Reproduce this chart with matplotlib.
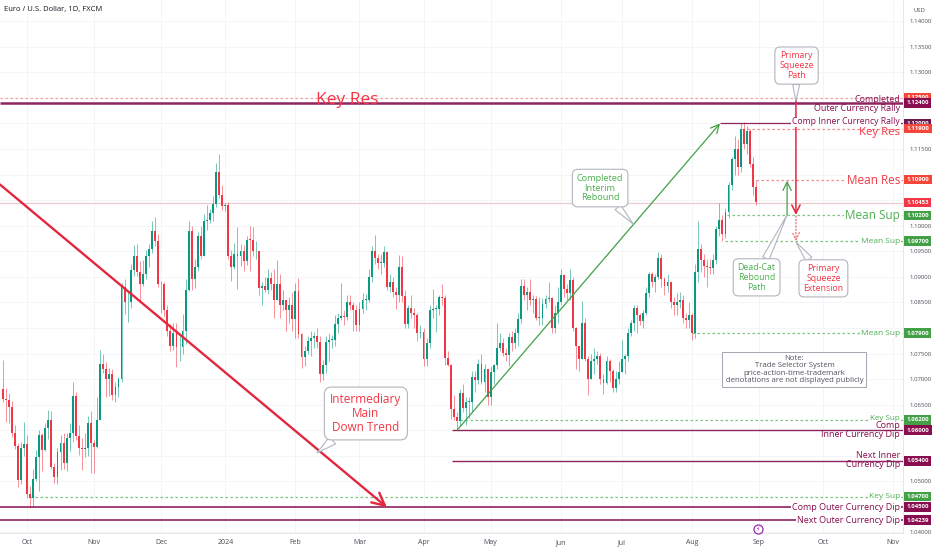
import numpy as np
import pandas as pd
import matplotlib
matplotlib.use("Agg")
import matplotlib.pyplot as plt
import matplotlib.transforms as mtransforms

plt.rcParams['font.family'] = ['Open Sans', 'DejaVu Sans']

# EUR/USD daily candles (FXCM), 2023-09-20 .. 2024-08-30
start_date = "2023-09-20"
end_date = "2024-08-30"
first_open = 1.0680

closes = [
    # Sep 2023
    1.0661, 1.0660, 1.0645, 1.0595, 1.0570, 1.0503, 1.0565, 1.0573,
    # Oct
    1.0476, 1.0468, 1.0505, 1.0547, 1.0590, 1.0562, 1.0605, 1.0620, 1.0528, 1.0508,
    1.0557, 1.0575, 1.0535, 1.0584, 1.0595, 1.0667, 1.0588, 1.0565, 1.0563, 1.0565,
    1.0615, 1.0575,
    # Nov
    1.0567, 1.0620, 1.0730, 1.0720, 1.0700, 1.0710, 1.0668, 1.0685, 1.0700, 1.0880,
    1.0850, 1.0850, 1.0914, 1.0940, 1.0910, 1.0886, 1.0905, 1.0940, 1.0954, 1.0990,
    1.0970, 1.0885,
    # Dec
    1.0885, 1.0835, 1.0795, 1.0765, 1.0790, 1.0762, 1.0763, 1.0795, 1.0875, 1.0990,
    1.0895, 1.0920, 1.0980, 1.0940, 1.1010, 1.1012, 1.1025, 1.1043, 1.1105, 1.1060,
    1.1038,
    # Jan 2024
    1.1040, 1.0940, 1.0920, 1.0945, 1.0940, 1.0950, 1.0930, 1.0973, 1.0972, 1.0950,
    1.0950, 1.0878, 1.0883, 1.0875, 1.0897, 1.0885, 1.0855, 1.0885, 1.0845, 1.0855,
    1.0835, 1.0845, 1.0818,
    # Feb
    1.0873, 1.0788, 1.0743, 1.0755, 1.0775, 1.0780, 1.0785, 1.0772, 1.0710, 1.0727,
    1.0772, 1.0777, 1.0777, 1.0808, 1.0820, 1.0823, 1.0822, 1.0850, 1.0845, 1.0835,
    1.0805,
    # Mar
    1.0838, 1.0855, 1.0855, 1.0900, 1.0950, 1.0937, 1.0927, 1.0927, 1.0948, 1.0880,
    1.0890, 1.0870, 1.0865, 1.0920, 1.0862, 1.0808, 1.0840, 1.0830, 1.0825, 1.0790,
    1.0792,
    # Apr
    1.0740, 1.0770, 1.0835, 1.0838, 1.0838, 1.0860, 1.0858, 1.0742, 1.0727, 1.0642,
    1.0625, 1.0618, 1.0672, 1.0643, 1.0655, 1.0655, 1.0705, 1.0698, 1.0730, 1.0694,
    1.0720, 1.0665,
    # May
    1.0713, 1.0727, 1.0760, 1.0770, 1.0752, 1.0748, 1.0783, 1.0770, 1.0790, 1.0818,
    1.0882, 1.0865, 1.0870, 1.0855, 1.0857, 1.0820, 1.0820, 1.0847, 1.0857, 1.0858,
    1.0800, 1.0830, 1.0850,
    # Jun
    1.0903, 1.0877, 1.0868, 1.0893, 1.0800, 1.0765, 1.0740, 1.0810, 1.0740, 1.0700,
    1.0735, 1.0740, 1.0745, 1.0700, 1.0692, 1.0735, 1.0715, 1.0683, 1.0700, 1.0713,
    # Jul
    1.0740, 1.0745, 1.0790, 1.0810, 1.0840, 1.0825, 1.0813, 1.0830, 1.0868, 1.0905,
    1.0890, 1.0900, 1.0937, 1.0895, 1.0883, 1.0890, 1.0850, 1.0845, 1.0850, 1.0855,
    1.0820, 1.0815, 1.0825,
    # Aug
    1.0790, 1.0910, 1.0955, 1.0933, 1.0922, 1.0920, 1.0917, 1.0932, 1.0993, 1.1012,
    1.0983, 1.1027, 1.1080, 1.1130, 1.1150, 1.1115, 1.1190, 1.1160, 1.1185, 1.1120,
    1.1075, 1.1047,
]

highs = [
    1.0737, 1.0683, 1.0672, 1.0657, 1.0610, 1.0575, 1.0577, 1.0617,
    1.0590, 1.0490, 1.0525, 1.0561, 1.0600, 1.0595, 1.0615, 1.0640, 1.0638, 1.0535,
    1.0565, 1.0590, 1.0595, 1.0595, 1.0615, 1.0695, 1.0675, 1.0610, 1.0585, 1.0595,
    1.0627, 1.0637,
    1.0580, 1.0665, 1.0756, 1.0750, 1.0733, 1.0722, 1.0720, 1.0695, 1.0705, 1.0887,
    1.0895, 1.0870, 1.0925, 1.0962, 1.0965, 1.0930, 1.0932, 1.0952, 1.0965, 1.1009,
    1.1017, 1.0984,
    1.0892, 1.0890, 1.0845, 1.0808, 1.0810, 1.0810, 1.0787, 1.0827, 1.0895, 1.1009,
    1.1000, 1.0935, 1.0988, 1.1000, 1.1022, 1.1040, 1.1032, 1.1059, 1.1122, 1.1140,
    1.1080,
    1.1045, 1.1046, 1.0952, 1.0967, 1.0998, 1.0965, 1.0963, 1.0980, 1.0999, 1.0998,
    1.0970, 1.0950, 1.0890, 1.0900, 1.0915, 1.0910, 1.0915, 1.0933, 1.0905, 1.0874,
    1.0855, 1.0860, 1.0870,
    1.0888, 1.0897, 1.0790, 1.0765, 1.0785, 1.0795, 1.0793, 1.0800, 1.0785, 1.0737,
    1.0785, 1.0790, 1.0787, 1.0825, 1.0830, 1.0888, 1.0835, 1.0865, 1.0865, 1.0850,
    1.0845,
    1.0850, 1.0868, 1.0866, 1.0915, 1.0960, 1.0981, 1.0945, 1.0945, 1.0960, 1.0950,
    1.0905, 1.0900, 1.0880, 1.0942, 1.0940, 1.0875, 1.0845, 1.0865, 1.0840, 1.0830,
    1.0805,
    1.0800, 1.0780, 1.0845, 1.0876, 1.0845, 1.0865, 1.0885, 1.0865, 1.0755, 1.0730,
    1.0668, 1.0635, 1.0680, 1.0690, 1.0665, 1.0665, 1.0715, 1.0715, 1.0740, 1.0750,
    1.0730, 1.0720,
    1.0725, 1.0730, 1.0810, 1.0790, 1.0780, 1.0760, 1.0790, 1.0795, 1.0800, 1.0830,
    1.0895, 1.0895, 1.0880, 1.0895, 1.0865, 1.0862, 1.0860, 1.0858, 1.0865, 1.0890,
    1.0860, 1.0845, 1.0880,
    1.0915, 1.0905, 1.0885, 1.0916, 1.0900, 1.0802, 1.0765, 1.0852, 1.0820, 1.0745,
    1.0750, 1.0760, 1.0755, 1.0752, 1.0710, 1.0745, 1.0740, 1.0720, 1.0715, 1.0735,
    1.0776, 1.0750, 1.0800, 1.0815, 1.0845, 1.0845, 1.0830, 1.0835, 1.0880, 1.0910,
    1.0910, 1.0905, 1.0948, 1.0945, 1.0900, 1.0905, 1.0890, 1.0860, 1.0868, 1.0870,
    1.0865, 1.0830, 1.0850,
    1.0830, 1.0925, 1.1009, 1.0965, 1.0945, 1.0935, 1.0935, 1.0945, 1.1000, 1.1045,
    1.1020, 1.1035, 1.1085, 1.1135, 1.1175, 1.1170, 1.1200, 1.1202, 1.1195, 1.1190,
    1.1135, 1.1090,
]

lows = [
    1.0655, 1.0616, 1.0615, 1.0587, 1.0563, 1.0488, 1.0495, 1.0550,
    1.0467, 1.0448, 1.0449, 1.0500, 1.0482, 1.0520, 1.0560, 1.0582, 1.0525, 1.0496,
    1.0495, 1.0522, 1.0525, 1.0520, 1.0560, 1.0577, 1.0580, 1.0552, 1.0522, 1.0548,
    1.0550, 1.0516,
    1.0517, 1.0565, 1.0620, 1.0712, 1.0665, 1.0667, 1.0660, 1.0656, 1.0665, 1.0695,
    1.0828, 1.0812, 1.0840, 1.0902, 1.0902, 1.0852, 1.0882, 1.0896, 1.0920, 1.0946,
    1.0960, 1.0880,
    1.0830, 1.0824, 1.0785, 1.0755, 1.0756, 1.0723, 1.0735, 1.0750, 1.0768, 1.0873,
    1.0875, 1.0878, 1.0912, 1.0935, 1.0950, 1.0992, 1.1005, 1.1010, 1.1037, 1.1055,
    1.1030,
    1.1028, 1.0935, 1.0892, 1.0915, 1.0877, 1.0922, 1.0912, 1.0924, 1.0912, 1.0940,
    1.0935, 1.0865, 1.0845, 1.0870, 1.0867, 1.0875, 1.0820, 1.0855, 1.0820, 1.0835,
    1.0795, 1.0810, 1.0795,
    1.0780, 1.0780, 1.0722, 1.0725, 1.0750, 1.0745, 1.0760, 1.0760, 1.0695, 1.0698,
    1.0712, 1.0735, 1.0760, 1.0765, 1.0790, 1.0815, 1.0805, 1.0815, 1.0835, 1.0795,
    1.0795,
    1.0795, 1.0830, 1.0835, 1.0850, 1.0890, 1.0925, 1.0915, 1.0905, 1.0920, 1.0875,
    1.0870, 1.0860, 1.0838, 1.0850, 1.0850, 1.0800, 1.0800, 1.0820, 1.0800, 1.0775,
    1.0780,
    1.0725, 1.0725, 1.0760, 1.0820, 1.0792, 1.0825, 1.0845, 1.0728, 1.0725, 1.0622,
    1.0620, 1.0601, 1.0610, 1.0635, 1.0610, 1.0624, 1.0635, 1.0675, 1.0690, 1.0690,
    1.0675, 1.0650,
    1.0650, 1.0690, 1.0720, 1.0755, 1.0745, 1.0735, 1.0725, 1.0755, 1.0760, 1.0765,
    1.0810, 1.0855, 1.0835, 1.0845, 1.0830, 1.0815, 1.0805, 1.0805, 1.0840, 1.0850,
    1.0790, 1.0790, 1.0810,
    1.0845, 1.0860, 1.0855, 1.0855, 1.0795, 1.0720, 1.0715, 1.0740, 1.0735, 1.0668,
    1.0700, 1.0710, 1.0730, 1.0690, 1.0670, 1.0690, 1.0695, 1.0675, 1.0675, 1.0690,
    1.0715, 1.0710, 1.0735, 1.0785, 1.0795, 1.0790, 1.0805, 1.0800, 1.0825, 1.0860,
    1.0880, 1.0870, 1.0895, 1.0880, 1.0865, 1.0870, 1.0840, 1.0825, 1.0825, 1.0840,
    1.0810, 1.0800, 1.0800,
    1.0777, 1.0780, 1.0890, 1.0910, 1.0900, 1.0880, 1.0905, 1.0905, 1.0925, 1.0980,
    1.0970, 1.0975, 1.1015, 1.1070, 1.1100, 1.1100, 1.1105, 1.1150, 1.1140, 1.1115,
    1.1060, 1.1040,
]

last_price = 1.10453
month_names = ['Oct', 'Nov', 'Dec', '2024', 'Feb', 'Mar', 'Apr', 'May', 'Jun',
               'Jul', 'Aug', 'Sep', 'Oct', 'Nov']
# price ticks that the scale shows (the rest sit under the level boxes)
price_ticks = [1.140, 1.135, 1.130, 1.115, 1.100, 1.095, 1.090, 1.085,
               1.075, 1.070, 1.065, 1.050, 1.040]

RED = '#F23645'
GREEN = '#4CAF50'
MAROON = '#880E4F'
UP = '#089981'

# ---- data prep
dates = pd.bdate_range(start_date, end_date)
assert len(dates) == len(closes) == len(highs) == len(lows)
closes = np.array(closes)
opens = np.concatenate([[first_open], closes[:-1]])
highs = np.maximum(np.array(highs), np.maximum(opens, closes))
lows = np.minimum(np.array(lows), np.minimum(opens, closes))
idx = np.arange(len(closes))

future = pd.bdate_range(start_date, "2024-11-29")
month_pos = []
for k in range(1, len(future)):
    if future[k].month != future[k - 1].month:
        month_pos.append(k)
month_pos = month_pos[:len(month_names)]

def dpos(d):
    return int(np.searchsorted(future, pd.Timestamp(d)))

# ---- figure
fig = plt.figure(figsize=(9.32, 5.5), dpi=100)
ax = fig.add_axes([0, 17 / 550, 903 / 932, 533 / 550])
ax.set_xlim(-0.85, 295.2)
ax.set_ylim(1.03990, 1.14414)

# grid
for p in month_pos:
    ax.axvline(p, color='#F3F4F6', lw=0.6, zorder=0)
for y in np.round(np.arange(1.04, 1.14001, 0.005), 3):
    ax.axhline(y, color='#F3F4F6', lw=0.6, zorder=0)

# candles
up = closes >= opens
col = np.where(up, UP, RED)
ax.vlines(idx, lows, highs, colors=col, lw=0.7, alpha=0.55, zorder=2)
body_h = np.maximum(np.abs(closes - opens), 0.00012)
ax.bar(idx, body_h, bottom=np.minimum(opens, closes), width=0.62, color=col,
       lw=0, zorder=3)

# current price line
ax.axhline(last_price, color='#EBC9CE', lw=0.9, zorder=1)

# level lines
d_apr16 = dpos("2024-04-16")
levels = [
    # price, x start, colour, linestyle, lw
    (1.1250, -1, '#F5A3A8', (0, (2, 2)), 0.9),
    (1.1240, -1, '#8E2460', '-', 1.8),
    (1.1200, 235.2, '#8E2460', '-', 0.9),
    (1.1190, 242.5, '#F58A90', (0, (2, 2)), 0.9),
    (1.1090, 247.0, '#F58A90', (0, (2, 2)), 0.9),
    (1.1020, 237.5, '#7CC47F', (0, (2, 2)), 0.9),
    (1.0970, 237.0, '#7CC47F', (0, (2, 2)), 0.9),
    (1.0790, dpos("2024-08-01"), '#7CC47F', (0, (2, 2)), 0.9),
    (1.0620, d_apr16 + 1, '#7CC47F', (0, (2, 2)), 0.9),
    (1.0600, d_apr16 - 1.5, '#8E2460', '-', 1.0),
    (1.0540, d_apr16 - 1.5, '#8E2460', '-', 1.0),
    (1.0470, dpos("2023-10-03"), '#7CC47F', (0, (2, 2)), 0.9),
    (1.0450, -1, '#8E2460', '-', 1.2),
    (1.04239, -1, '#8E2460', '-', 1.2),
]
for price, x0, c, ls, lw in levels:
    ax.plot([x0, 296], [price, price], color=c, ls=ls, lw=lw, zorder=2,
            solid_capstyle='butt')

# right-side level texts
tr = mtransforms.blended_transform_factory(ax.transAxes, ax.transData)
lbl_bg = dict(boxstyle='square,pad=0.1', fc='white', ec='none')
level_texts = [
    (1.12462, 'Completed', MAROON, 6.5, None),
    (1.12284, 'Outer Currency Rally', MAROON, 6.5, None),
    (1.12030, 'Comp Inner Currency Rally', MAROON, 6.2, lbl_bg),
    (1.11818, 'Key Res', RED, 8.2, None),
    (1.10885, 'Mean Res', RED, 8.5, lbl_bg),
    (1.10190, 'Mean Sup', GREEN, 8.5, lbl_bg),
    (1.09685, 'Mean Sup', GREEN, 6.0, lbl_bg),
    (1.07890, 'Mean Sup', GREEN, 6.0, lbl_bg),
    (1.06225, 'Key Sup', GREEN, 5.8, lbl_bg),
    (1.06090, 'Comp', MAROON, 6.5, None),
    (1.05920, 'Inner Currency Dip', MAROON, 6.5, None),
    (1.05500, 'Next Inner', MAROON, 6.5, None),
    (1.05320, 'Currency Dip', MAROON, 6.5, None),
    (1.04700, 'Key Sup', GREEN, 6.0, lbl_bg),
    (1.04490, 'Comp Outer Currency Dip', MAROON, 6.5, lbl_bg),
    (1.04230, 'Next Outer Currency Dip', MAROON, 6.5, lbl_bg),
]
for price, txt, c, fs, bg in level_texts:
    ax.text(900 / 903, price, txt, transform=tr, ha='right', va='center',
            color=c, fontsize=fs, bbox=bg, zorder=5)

ax.text(112.9, 1.12462, 'Key Res', color=RED, fontsize=12.5, ha='center',
        va='center', zorder=5)

# price scale boxes
price_boxes = [
    (1.1250, '1.12500', '#F4473A'),
    (1.1240, '1.12400', '#880E4F'),
    (1.1200, '1.12000', '#6A1B4D'),
    (1.1190, '1.11900', '#F4473A'),
    (1.1090, '1.10900', '#F4473A'),
    (last_price, '1.10453', '#F23645'),
    (1.1020, '1.10200', '#43A047'),
    (1.0970, '1.09700', '#43A047'),
    (1.0790, '1.07900', '#43A047'),
    (1.0620, '1.06200', '#43A047'),
    (1.0600, '1.06000', '#880E4F'),
    (1.0540, '1.05400', '#880E4F'),
    (1.0470, '1.04700', '#43A047'),
    (1.0450, '1.04500', '#880E4F'),
    (1.04239, '1.04239', '#880E4F'),
]
for price, txt, c in price_boxes:
    ax.text(1.0 + 3.5 / 903, price, txt, transform=tr, ha='left', va='center',
            color='white', fontsize=4.3, fontweight='bold', clip_on=False,
            zorder=7, bbox=dict(boxstyle='square,pad=0.38', fc=c, ec='none'))

# trend lines / arrows
ax.annotate('', xy=(126.0, 1.04493), xytext=(-0.85, 1.10805),
            arrowprops=dict(arrowstyle='->,head_length=0.9,head_width=0.45',
                            color='#E5273E', lw=1.7, shrinkA=0, shrinkB=0), zorder=4)
ax.annotate('', xy=(235.2, 1.1200), xytext=(d_apr16, 1.0600),
            arrowprops=dict(arrowstyle='->,head_length=0.6,head_width=0.3',
                            color='#43A047', lw=0.9, shrinkA=0, shrinkB=0), zorder=4)
ax.annotate('', xy=(257.2, 1.1088), xytext=(257.2, 1.1021),
            arrowprops=dict(arrowstyle='->,head_length=0.6,head_width=0.3',
                            color='#43A047', lw=0.9, shrinkA=0, shrinkB=0), zorder=4)
ax.annotate('', xy=(260.1, 1.1021), xytext=(260.1, 1.1250),
            arrowprops=dict(arrowstyle='->,head_length=0.6,head_width=0.3',
                            color='#E5273E', lw=1.1, shrinkA=0, shrinkB=0), zorder=4)
ax.annotate('', xy=(260.1, 1.0970), xytext=(260.1, 1.1019),
            arrowprops=dict(arrowstyle='->,head_length=0.5,head_width=0.25',
                            color='#F06A72', lw=0.9, ls=':', shrinkA=0, shrinkB=0),
            zorder=4)

# callouts
def callout(text, box_xy, tail_xy, color, size):
    ax.annotate(text, xy=tail_xy, xytext=box_xy, ha='center', va='center',
                color=color, fontsize=size, linespacing=1.1, zorder=6,
                bbox=dict(boxstyle='round,pad=0.5,rounding_size=0.6', fc='white',
                          ec='#B2B5BE', lw=0.8),
                arrowprops=dict(arrowstyle='wedge,tail_width=0.8', fc='white',
                                ec='#B2B5BE', lw=0.8, shrinkA=0, shrinkB=0))

callout('Completed\nInterim\nRebound', (195.9, 1.10736), (206.7, 1.10036), GREEN, 6.6)
callout('Intermediary\nMain\nDown Trend', (119.1, 1.06327), (103.1, 1.05558), RED, 8.5)
callout('Primary\nSqueeze\nPath', (260.3, 1.13132), (260.1, 1.12442), RED, 6.3)
callout('Dead-Cat\nRebound\nPath', (247.2, 1.0899), (257.2, 1.1021), GREEN, 6.3)
callout('Primary\nSqueeze\nExtension', (269.1, 1.0897), (260.1, 1.0968), RED, 6.3)

ax.text(259.6, 1.07185, 'Note:\nTrade Selector System\nprice-action-time-trademark\n'
        'denotations are not displayed publicly', ha='center', va='center',
        color='#50535E', fontsize=5.6, linespacing=1.1, zorder=6,
        bbox=dict(boxstyle='square,pad=0.4', fc='white', ec='#A3A6AF', lw=0.7))

# lightning icon
ax.plot([247.7], [1.04060], marker='o', ms=6.5, mfc='white', mec='#9C27B0',
        mew=0.9, zorder=6, clip_on=False)
ax.text(247.7, 1.04060, '\u26a1', color='#9C27B0', fontsize=4.5, ha='center',
        va='center', zorder=7, family=['DejaVu Sans'])

# axes styling
for s in ['top', 'left']:
    ax.spines[s].set_visible(False)
for s in ['right', 'bottom']:
    ax.spines[s].set_color('#E0E3EB')
    ax.spines[s].set_linewidth(0.6)
ax.yaxis.tick_right()
ax.set_yticks(price_ticks)
ax.set_yticklabels(['%.5f' % v for v in price_ticks])
ax.set_xticks(month_pos)
ax.set_xticklabels(month_names)
ax.tick_params(axis='y', length=0, pad=5, labelsize=4.3, labelcolor='#4A4D57')
ax.tick_params(axis='x', length=0, pad=4.3, labelsize=5.0, labelcolor='#4A4D57')

fig.text(4 / 932, 1 - 9 / 550, 'Euro / U.S. Dollar, 1D, FXCM', fontsize=5.5,
         color='#131722', va='center', ha='left')
fig.text(914 / 932, 1 - 10 / 550, 'USD', fontsize=4.3, color='#4A4D57',
         va='center', ha='left')

fig.savefig('out.png', dpi=100, facecolor='white')
